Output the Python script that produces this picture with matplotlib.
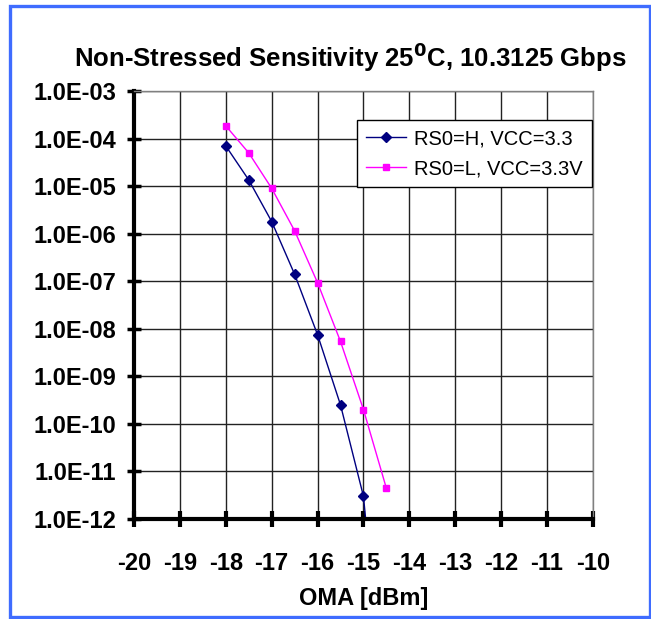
import numpy as np
import matplotlib
matplotlib.use("Agg")
import matplotlib.pyplot as plt
from matplotlib.ticker import FuncFormatter, FixedLocator
from matplotlib.patches import Rectangle

# data
oma_h = [-18.0, -17.5, -17.0, -16.5, -16.0, -15.5, -15.0, -14.9]
ber_h = [7e-5, 1.35e-5, 1.8e-6, 1.4e-7, 7.5e-9, 2.5e-10, 3e-12, 3e-13]
oma_l = [-18.0, -17.5, -17.0, -16.5, -16.0, -15.5, -15.0, -14.5]
ber_l = [1.85e-4, 5e-5, 9e-6, 1.15e-6, 9.3e-8, 5.4e-9, 2e-10, 4.4e-12]
label_h = "RS0=H, VCC=3.3"
label_l = "RS0=L, VCC=3.3V"
x_ticks = list(range(-20, -9))
y_exps = list(range(-12, -2))

plt.rcParams["font.family"] = ["Liberation Sans", "DejaVu Sans"]
plt.rcParams["font.weight"] = "bold"

fig = plt.figure(figsize=(6.51, 6.19), dpi=100)
# blue frame around the whole chart
fig.patches.append(Rectangle((0.0154, 0.0032), 0.983, 0.987, transform=fig.transFigure,
                             fill=False, edgecolor="#3f6cff", lw=2.4))
ax = fig.add_axes([0.2058, 0.1616, 0.705, 0.6914])

ax.plot(oma_h, ber_h, "-", color="#000080", lw=1, marker="D", ms=5,
        label=label_h)
ax.plot(oma_l, ber_l, "-", color="#ff00ff", lw=1, marker="s", ms=5,
        label=label_l)
ax.set_yscale("log")
ax.set_xlim(-20, -10)
ax.set_ylim(1e-12, 1e-3)
ax.xaxis.set_major_locator(FixedLocator(x_ticks))
ax.yaxis.set_major_locator(FixedLocator([10.0 ** e for e in y_exps]))
ax.yaxis.set_minor_locator(FixedLocator([]))
ax.yaxis.set_major_formatter(FuncFormatter(lambda v, p: f"1.0E-{-int(round(np.log10(v))):02d}"))
ax.xaxis.set_major_formatter(FuncFormatter(lambda v, p: f"{int(v)}"))
ax.grid(True, color="#222222", lw=1)
for s in ("top", "right"):
    ax.spines[s].set_color("#808080")
    ax.spines[s].set_linewidth(1)
for s in ("left", "bottom"):
    ax.spines[s].set_color("black")
    ax.spines[s].set_linewidth(3)
ax.tick_params(axis="x", direction="inout", length=11, width=3, pad=18,
               labelsize=17)
ax.tick_params(axis="y", direction="inout", length=10, width=2.5, pad=8,
               labelsize=17)
ax.set_xlabel("OMA [dBm]", fontsize=17, fontweight="bold", labelpad=9)
fig.text(0.538, 0.908, r"Non-Stressed Sensitivity 25$^{\mathbf{0}}$C, 10.3125 Gbps",
         ha="center", va="center", fontsize=18.5, fontweight="bold")
leg = ax.legend(loc="upper right", bbox_to_anchor=(0.998, 0.932),
                prop={"size": 14.5, "weight": "normal"},
                fancybox=False, framealpha=1, edgecolor="black",
                borderpad=0.45, handlelength=2.0, handletextpad=0.4,
                labelspacing=0.55, borderaxespad=0)
leg.get_frame().set_linewidth(1)

fig.savefig("out.png", dpi=100)
